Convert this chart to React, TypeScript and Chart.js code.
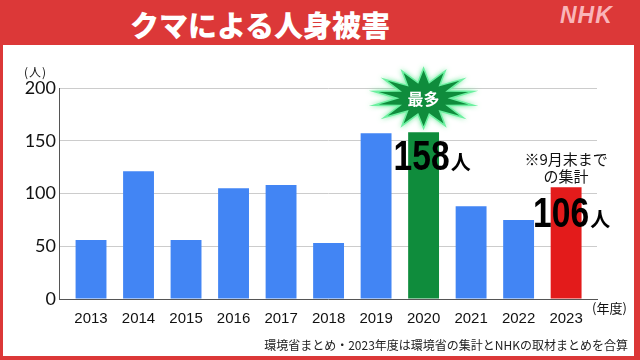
import React, { useEffect, useRef } from "react";
import { Chart, registerables } from "chart.js";

Chart.register(...registerables);

const years = ["2013", "2014", "2015", "2016", "2017", "2018", "2019", "2020", "2021", "2022", "2023"];
const victims = [56, 121, 56, 105, 108, 53, 157, 158, 88, 75, 106];
const barColors = ["#4285f4", "#4285f4", "#4285f4", "#4285f4", "#4285f4", "#4285f4", "#4285f4", "#0f8c3c", "#4285f4", "#4285f4", "#e31b1b"];
const yTicks = [0, 50, 100, 150, 200];
const maxIndex = 7;
const lastIndex = 10;

function drawBigNumber(ctx: any, text: string, x: number, baseline: number) {
  ctx.save();
  ctx.font = "bold 42px 'Liberation Sans', Arial";
  ctx.textAlign = "left";
  ctx.textBaseline = "alphabetic";
  ctx.fillStyle = "#000";
  const sx = 0.8;
  const w = ctx.measureText(text).width * sx;
  ctx.translate(x, baseline);
  ctx.scale(sx, 1);
  ctx.fillText(text, 0, 0);
  ctx.restore();
  ctx.save();
  ctx.fillStyle = "#000";
  ctx.textAlign = "left";
  ctx.textBaseline = "alphabetic";
  ctx.font = "bold 20px 'Noto Sans CJK JP'";
  ctx.fillText("人", x + w + 1, baseline);
  ctx.restore();
}

const annotationPlugin = {
  id: "annot",
  afterDatasetsDraw(chart: any) {
    const { ctx, scales } = chart;
    const xs = scales.x;
    const ys = scales.y;
    ctx.save();
    const cx = xs.getPixelForValue(maxIndex);
    const cy = ys.getPixelForValue(victims[maxIndex]) - 34;
    const n = 14;
    const ro = [46, 28];
    const ri = [24, 15];
    ctx.beginPath();
    for (let i = 0; i < n * 2; i++) {
      const a = (Math.PI * i) / n - Math.PI / 2;
      const r = i % 2 === 0 ? ro : ri;
      const px = cx + Math.cos(a) * r[0];
      const py = cy + Math.sin(a) * r[1];
      if (i === 0) ctx.moveTo(px, py);
      else ctx.lineTo(px, py);
    }
    ctx.closePath();
    ctx.shadowColor = "rgba(90,230,140,0.9)";
    ctx.shadowBlur = 5;
    ctx.lineJoin = "miter";
    ctx.strokeStyle = "#6cf0a0";
    ctx.lineWidth = 3;
    ctx.stroke();
    ctx.shadowBlur = 0;
    ctx.fillStyle = "#0f8c3c";
    ctx.fill();
    ctx.fillStyle = "#ffffff";
    ctx.font = "bold 16px 'Noto Sans CJK JP'";
    ctx.textAlign = "center";
    ctx.textBaseline = "middle";
    ctx.fillText("最多", cx, cy + 1);
    ctx.restore();

    const bx = xs.getPixelForValue(maxIndex);
    const by = ys.getPixelForValue(victims[maxIndex]);
    drawBigNumber(ctx, String(victims[maxIndex]), bx - 30, by + 38);

    const lx = xs.getPixelForValue(lastIndex);
    const ly = ys.getPixelForValue(victims[lastIndex]);
    drawBigNumber(ctx, String(victims[lastIndex]), lx - 33, ly + 40);

    ctx.save();
    ctx.font = "15px 'Noto Sans CJK JP'";
    ctx.textAlign = "center";
    ctx.textBaseline = "middle";
    ctx.fillStyle = "#111";
    ctx.fillText("※9月末まで", lx, ly - 28);
    ctx.fillText("の集計", lx, ly - 11);
    ctx.restore();
  },
};

export default function App() {
  const ref = useRef<HTMLCanvasElement>(null);
  useEffect(() => {
    document.body.style.margin = "0";
    const chart = new Chart(ref.current as HTMLCanvasElement, {
      type: "bar",
      data: {
        datasets: [
          {
            data: victims.map((v, i) => ({ x: i, y: v })),
            backgroundColor: barColors,
            barPercentage: 0.65,
            categoryPercentage: 1,
          },
        ],
      },
      options: {
        animation: false,
        responsive: false,
        events: [],
        layout: { padding: { left: 0, top: 88, right: 43, bottom: 0 } },
        plugins: { legend: { display: false }, tooltip: { enabled: false } },
        scales: {
          x: {
            type: "linear",
            offset: false,
            min: -0.674,
            max: 10.65,
            grid: { display: false },
            border: { color: "#555", width: 1 },
            ticks: {
              stepSize: 1,
              includeBounds: false,
              autoSkip: false,
              maxRotation: 0,
              padding: 3,
              color: "#111",
              font: { family: "'Liberation Sans', Arial", size: 15 },
              callback: (v: any) => {
                const n = Math.round(Number(v));
                return Math.abs(n - Number(v)) < 1e-6 && n >= 0 && n < years.length ? years[n] : "";
              },
            },
            afterFit: (s: any) => {
              s.height = 61;
            },
          },
          y: {
            min: yTicks[0],
            max: yTicks[yTicks.length - 1],
            grid: { color: "#cccccc", drawTicks: false },
            border: { color: "#555", width: 1 },
            ticks: {
              stepSize: 50,
              padding: 3,
              color: "#111",
              font: { family: "Lato", size: 18 },
            },
            afterFit: (s: any) => {
              s.width = 59;
            },
          },
        },
      },
      plugins: [annotationPlugin],
    } as any);
    return () => chart.destroy();
  }, []);

  return (
    <div style={{ position: "fixed", left: 0, top: 0, width: 640, height: 360, background: "#dc3838", overflow: "hidden" }}>
      <div
        style={{
          position: "absolute",
          left: 0,
          width: 520,
          top: 4,
          height: 40,
          lineHeight: "40px",
          textAlign: "center",
          color: "#fff",
          fontFamily: "'Noto Sans CJK JP'",
          fontWeight: 900,
          fontSize: 29,
        }}
      >
        クマによる人身被害
      </div>
      <div
        style={{
          position: "absolute",
          left: 560,
          top: 0,
          height: 30,
          lineHeight: "30px",
          color: "rgba(255,205,210,0.85)",
          fontFamily: "'Liberation Sans', Arial",
          fontWeight: 700,
          fontStyle: "italic",
          fontSize: 23,
          letterSpacing: 1,
        }}
      >
        NHK
      </div>
      <div style={{ position: "absolute", left: 3, top: 45, width: 631, height: 311, background: "#fff" }} />
      <canvas ref={ref} width={640} height={360} style={{ position: "absolute", left: 0, top: 0, width: 640, height: 360 }} />
      <div style={{ position: "absolute", left: 24, top: 63, fontSize: 12, lineHeight: "18px", letterSpacing: 1, color: "#111", fontFamily: "'Noto Sans CJK JP'" }}>
        (人)
      </div>
      <div style={{ position: "absolute", left: 592, top: 299, fontSize: 13, lineHeight: "18px", color: "#111", fontFamily: "'Noto Sans CJK JP'" }}>
        (年度)
      </div>
      <div
        style={{
          position: "absolute",
          right: 12,
          top: 336,
          fontSize: 12,
          lineHeight: "18px",
          color: "#222",
          fontFamily: "'Noto Sans CJK JP'",
          whiteSpace: "nowrap",
        }}
      >
        環境省まとめ・2023年度は環境省の集計とNHKの取材まとめを合算
      </div>
    </div>
  );
}
